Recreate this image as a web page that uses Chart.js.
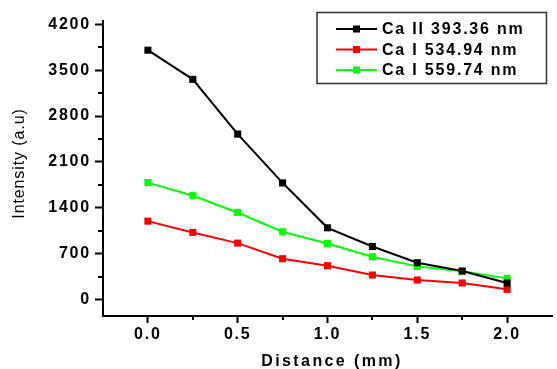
<!DOCTYPE html>
<html>
<head>
<meta charset="utf-8">
<script src="https://cdn.jsdelivr.net/npm/chart.js@4.4.1/dist/chart.umd.min.js"></script>
<style>
  html, body { margin: 0; padding: 0; background: #fff; }
  #wrap { width: 557px; height: 369px; }
</style>
</head>
<body>
<div id="wrap"><canvas id="c"></canvas></div>
<script>
// Datos
const distances = [0, 0.25, 0.5, 0.75, 1.0, 1.25, 1.5, 1.75, 2.0];
const caII393 = [3805, 3360, 2525, 1780, 1095, 810, 563, 436, 254];
const caI534 = [1197, 1025, 862, 624, 517, 375, 299, 254, 157];
const caI559 = [1785, 1587, 1329, 1035, 857, 654, 507, 431, 324];

const seriesLabels = ['Ca II 393.36 nm', 'Ca I 534.94 nm', 'Ca I 559.74 nm'];
const seriesColors = ['#000000', '#ff0000', '#00ff00'];

const xTicks = [0, 0.5, 1.0, 1.5, 2.0];
const xMinorTicks = [0.25, 0.75, 1.25, 1.75];
const yTicks = [0, 700, 1400, 2100, 2800, 3500, 4200];
const yMinorTicks = [350, 1050, 1750, 2450, 3150, 3850];

const xTitle = 'Distance (mm)';
const yTitle = 'Intensity (a.u)';

const FONT = "'Liberation Sans', Arial, sans-serif";

function toPoints(values) {
    return values.map((v, i) => ({ x: distances[i], y: v }));
}

const datasets = [caII393, caI534, caI559].map((vals, i) => ({
    label: seriesLabels[i],
    data: toPoints(vals),
    borderColor: seriesColors[i],
    backgroundColor: seriesColors[i],
    borderWidth: 2,
    pointStyle: 'rect',
    pointRadius: 5,
    pointBorderWidth: 0,
    pointHoverRadius: 5
}));

// Espaciado de letras para las etiquetas de los ejes
const spacingPlugin = {
    id: 'spacing',
    beforeDraw(chart) {
        chart.ctx.letterSpacing = '1.8px';
    }
};

// Marcas menores y titulos de los ejes
const axisExtrasPlugin = {
    id: 'axisExtras',
    afterDraw(chart) {
        const ctx = chart.ctx;
        const xs = chart.scales.x;
        const ys = chart.scales.y;
        ctx.save();
        ctx.strokeStyle = '#000';
        ctx.lineWidth = 2;
        ctx.beginPath();
        xMinorTicks.forEach(v => {
            const px = Math.round(xs.getPixelForValue(v));
            ctx.moveTo(px, xs.top);
            ctx.lineTo(px, xs.top + 4);
        });
        yMinorTicks.forEach(v => {
            const py = Math.round(ys.getPixelForValue(v));
            ctx.moveTo(ys.right, py);
            ctx.lineTo(ys.right - 5, py);
        });
        ctx.stroke();

        ctx.fillStyle = '#000';
        ctx.textAlign = 'center';
        ctx.textBaseline = 'middle';

        ctx.letterSpacing = '2.4px';
        ctx.font = 'bold 16px ' + FONT;
        ctx.fillText(xTitle, 332, 361.5);

        ctx.letterSpacing = '0.9px';
        ctx.font = '16px ' + FONT;
        ctx.translate(20, 163.5);
        ctx.rotate(-Math.PI / 2);
        ctx.fillText(yTitle, 0, 0);
        ctx.restore();
    }
};

// Leyenda con recuadro
const boxLegendPlugin = {
    id: 'boxLegend',
    afterDraw(chart) {
        const ctx = chart.ctx;
        ctx.save();
        ctx.letterSpacing = '1.8px';
        ctx.fillStyle = '#fff';
        ctx.fillRect(317, 12.5, 229.5, 71);
        ctx.strokeStyle = '#333';
        ctx.lineWidth = 1.5;
        ctx.strokeRect(317, 12.5, 229.5, 71);
        const rowY = [29, 49.5, 70];
        chart.data.datasets.forEach((ds, i) => {
            const y = rowY[i];
            ctx.strokeStyle = ds.borderColor;
            ctx.lineWidth = 2;
            ctx.beginPath();
            ctx.moveTo(336, y);
            ctx.lineTo(377, y);
            ctx.stroke();
            ctx.fillStyle = ds.borderColor;
            ctx.fillRect(353, y - 3.5, 7, 7);
            ctx.fillStyle = '#000';
            ctx.font = 'bold 16px ' + FONT;
            ctx.textAlign = 'left';
            ctx.textBaseline = 'middle';
            ctx.fillText(ds.label, 382, y + 1);
        });
        ctx.restore();
    }
};

const ctx = document.getElementById('c').getContext('2d');

const chart = new Chart(ctx, {
    type: 'line',
    data: { datasets: datasets },
    options: {
        responsive: true,
        maintainAspectRatio: false,
        animation: false,
        layout: { padding: { top: 21, right: 0, left: 0, bottom: 0 } },
        plugins: {
            legend: { display: false },
            tooltip: { enabled: false }
        },
        scales: {
            x: {
                type: 'linear',
                min: -0.25,
                max: 2.25,
                afterBuildTicks(scale) {
                    scale.ticks = xTicks.map(v => ({ value: v }));
                },
                afterFit(scale) {
                    scale.height = 53;
                },
                ticks: {
                    color: '#000',
                    font: { family: FONT, size: 16, weight: 'bold' },
                    padding: 2,
                    maxRotation: 0,
                    autoSkip: false,
                    callback: v => Number(v).toFixed(1)
                },
                grid: {
                    drawOnChartArea: false,
                    drawTicks: true,
                    tickLength: 7,
                    tickWidth: 2,
                    tickColor: '#000'
                },
                border: { color: '#000', width: 2 }
            },
            y: {
                type: 'linear',
                min: -250,
                max: 4250,
                afterBuildTicks(scale) {
                    scale.ticks = yTicks.map(v => ({ value: v }));
                },
                afterFit(scale) {
                    scale.width = 103;
                },
                ticks: {
                    color: '#000',
                    font: { family: FONT, size: 16, weight: 'bold' },
                    padding: 4,
                    autoSkip: false,
                    callback: v => String(v)
                },
                grid: {
                    drawOnChartArea: false,
                    drawTicks: true,
                    tickLength: 8,
                    tickWidth: 2,
                    tickColor: '#000'
                },
                border: { color: '#000', width: 2 }
            }
        }
    },
    plugins: [spacingPlugin, axisExtrasPlugin, boxLegendPlugin]
});
</script>
</body>
</html>
